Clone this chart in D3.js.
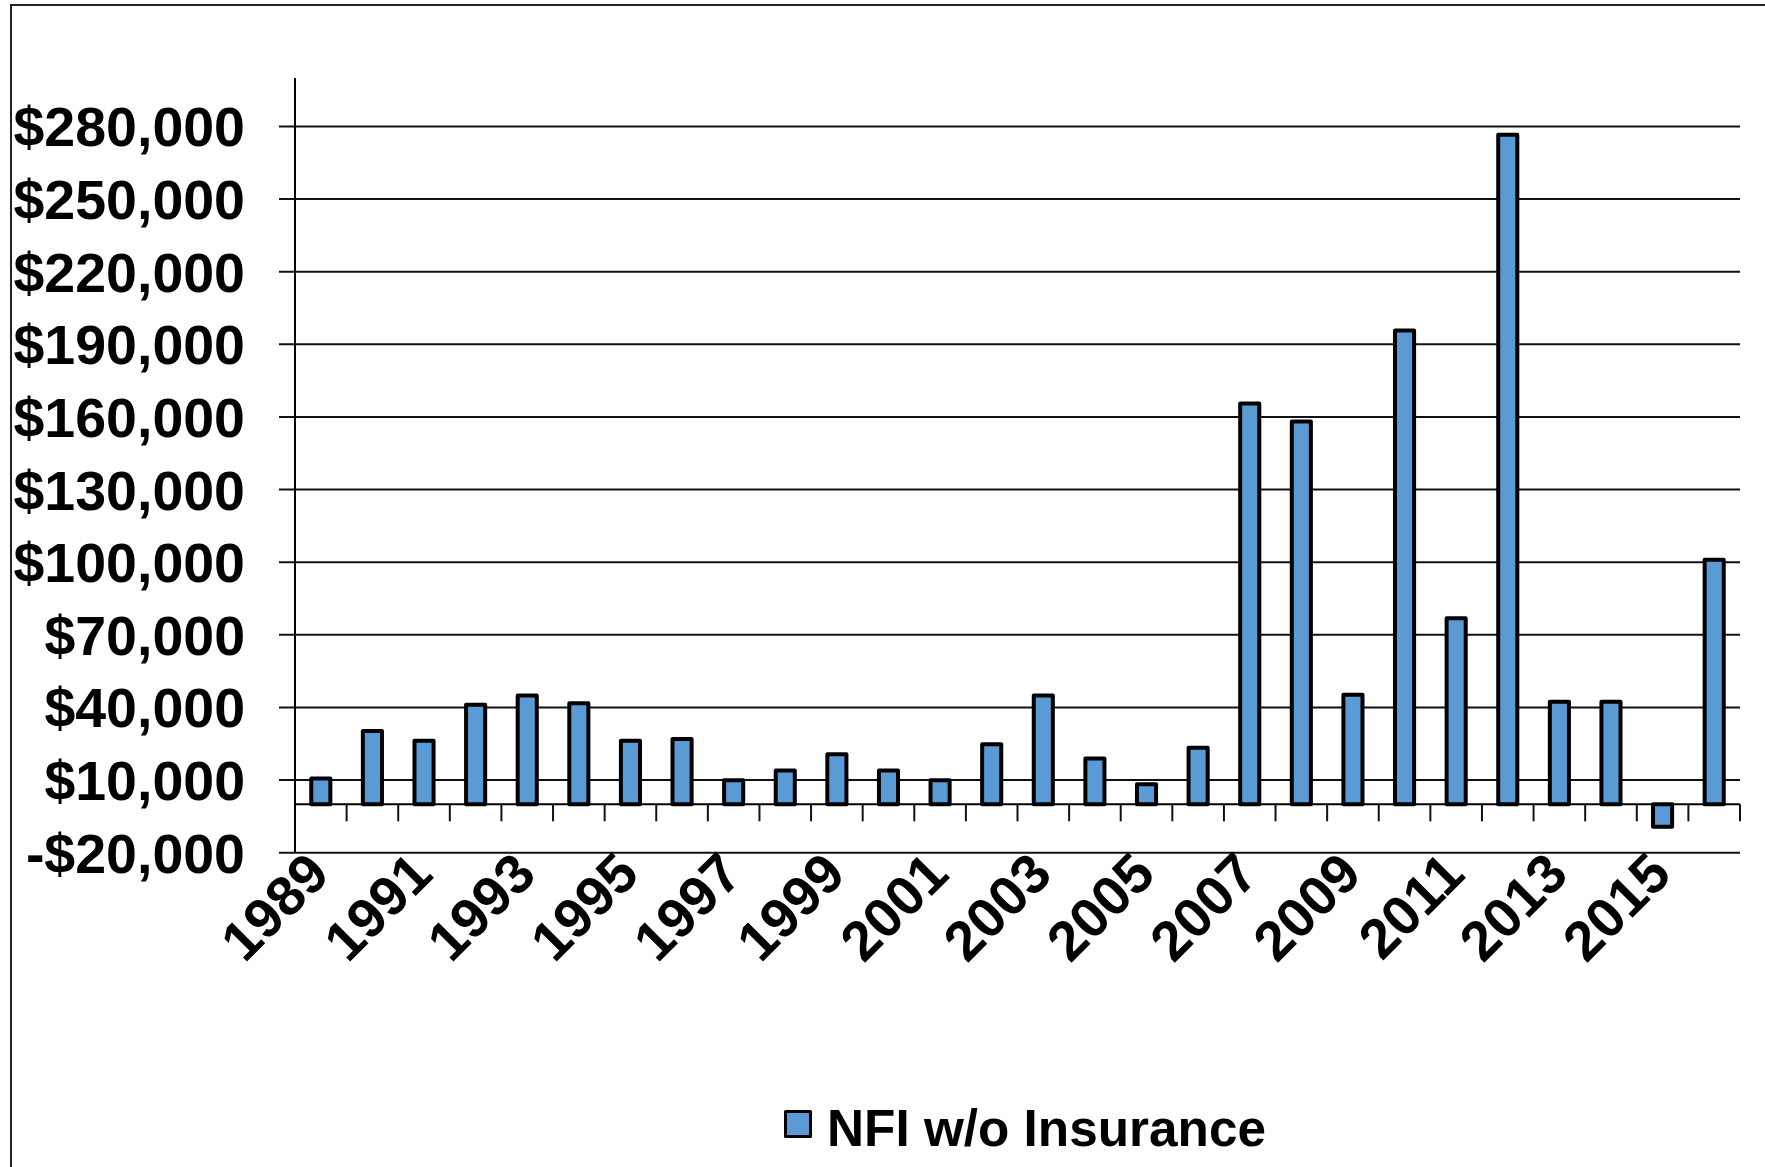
<!DOCTYPE html>
<html>
<head>
<meta charset="utf-8">
<script src="https://cdn.jsdelivr.net/npm/d3@7"></script>
<style>
  body { margin: 0; background: #fff; }
  text { font-family: "Liberation Sans", Arial, sans-serif; font-weight: bold; fill: #000; }
</style>
</head>
<body>
<div id="chart1"></div>
<script>
// dati
var years = ["1989","1990","1991","1992","1993","1994","1995","1996","1997","1998",
             "1999","2000","2001","2002","2003","2004","2005","2006","2007","2008",
             "2009","2010","2011","2012","2013","2014","2015","2016"];
var nfiValues = [10700, 30300, 26200, 41100, 44900, 41700, 26200, 27000, 9900, 14000,
                 20700, 14000, 9900, 24800, 44900, 18900, 8300, 23300, 165500, 158100,
                 45200, 195700, 76800, 276600, 42400, 42400, -9300, 101000];
var yTicks = [-20000, 10000, 40000, 70000, 100000, 130000, 160000, 190000, 220000, 250000, 280000];
var yearLabels = ["1989","1991","1993","1995","1997","1999","2001","2003","2005","2007","2009","2011","2013","2015"];
var seriesName = "NFI w/o Insurance";

var width = 1765, height = 1167;
var plot = {left: 295, right: 1740, top: 78, bottom: 852.7};

var svg = d3.select("#chart1").append("svg")
  .attr("width", width)
  .attr("height", height);

// cornice esterna
svg.append("rect")
  .attr("x", 11)
  .attr("y", 5)
  .attr("width", 1800)
  .attr("height", 1200)
  .attr("fill", "none")
  .attr("stroke", "#222")
  .attr("stroke-width", 2);

var x = d3.scaleBand()
  .domain(years)
  .range([plot.left, plot.right])
  .padding(0);

var y = d3.scaleLinear()
  .domain([-20000, 300000])
  .range([plot.bottom, plot.top]);

var barW = x.bandwidth() * 0.37;

// griglia + tacche asse y
svg.selectAll(".grid")
  .data(yTicks)
  .enter().append("line")
  .attr("class", "grid")
  .attr("x1", plot.left - 16)
  .attr("x2", plot.right)
  .attr("y1", function(d) { return y(d); })
  .attr("y2", function(d) { return y(d); })
  .attr("stroke", "#111")
  .attr("stroke-width", 2);

svg.selectAll(".ylab")
  .data(yTicks)
  .enter().append("text")
  .attr("class", "ylab")
  .attr("x", 245)
  .attr("y", function(d) { return y(d); })
  .attr("dy", ".36em")
  .attr("text-anchor", "end")
  .style("font-size", "55.5px")
  .text(function(d) { return (d < 0 ? "-$" : "$") + d3.format(",")(Math.abs(d)); });

// asse y
svg.append("line")
  .attr("x1", plot.left)
  .attr("x2", plot.left)
  .attr("y1", plot.top)
  .attr("y2", plot.bottom)
  .attr("stroke", "#000")
  .attr("stroke-width", 2);

// barre
svg.selectAll(".bar")
  .data(nfiValues)
  .enter().append("rect")
  .attr("class", "bar")
  .attr("x", function(d, i) { return x(years[i]) + x.bandwidth() / 2 - barW / 2; })
  .attr("y", function(d) { return y(Math.max(0, d)); })
  .attr("width", barW)
  .attr("height", function(d) { return Math.abs(y(d) - y(0)); })
  .attr("fill", "#5B9BD5")
  .attr("stroke", "#000")
  .attr("stroke-width", 4)
  .attr("stroke-linejoin", "round");

// asse x sullo zero
svg.append("line")
  .attr("x1", plot.left)
  .attr("x2", plot.right)
  .attr("y1", y(0))
  .attr("y2", y(0))
  .attr("stroke", "#000")
  .attr("stroke-width", 2);

svg.selectAll(".xtick")
  .data(years)
  .enter().append("line")
  .attr("class", "xtick")
  .attr("x1", function(d) { return x(d) + x.bandwidth(); })
  .attr("x2", function(d) { return x(d) + x.bandwidth(); })
  .attr("y1", y(0))
  .attr("y2", y(0) + 17)
  .attr("stroke", "#111")
  .attr("stroke-width", 2);

svg.selectAll(".xlab")
  .data(yearLabels)
  .enter().append("text")
  .attr("class", "xlab")
  .attr("text-anchor", "end")
  .style("font-size", "55.5px")
  .attr("transform", function(d) {
    return "translate(" + (x(d) + x.bandwidth() / 2 + 11) + "," + (plot.bottom + 24) + ")rotate(-45)";
  })
  .text(function(d) { return d; });

// legenda
var legend = svg.append("g")
  .attr("class", "legend");

legend.append("rect")
  .attr("x", 785.5)
  .attr("y", 1111.5)
  .attr("width", 25)
  .attr("height", 25)
  .attr("fill", "#5B9BD5")
  .attr("stroke", "#000")
  .attr("stroke-width", 3)
  .attr("stroke-linejoin", "round");

legend.append("text")
  .attr("x", 827)
  .attr("y", 1146)
  .style("font-size", "51.3px")
  .text(seriesName);
</script>
</body>
</html>
